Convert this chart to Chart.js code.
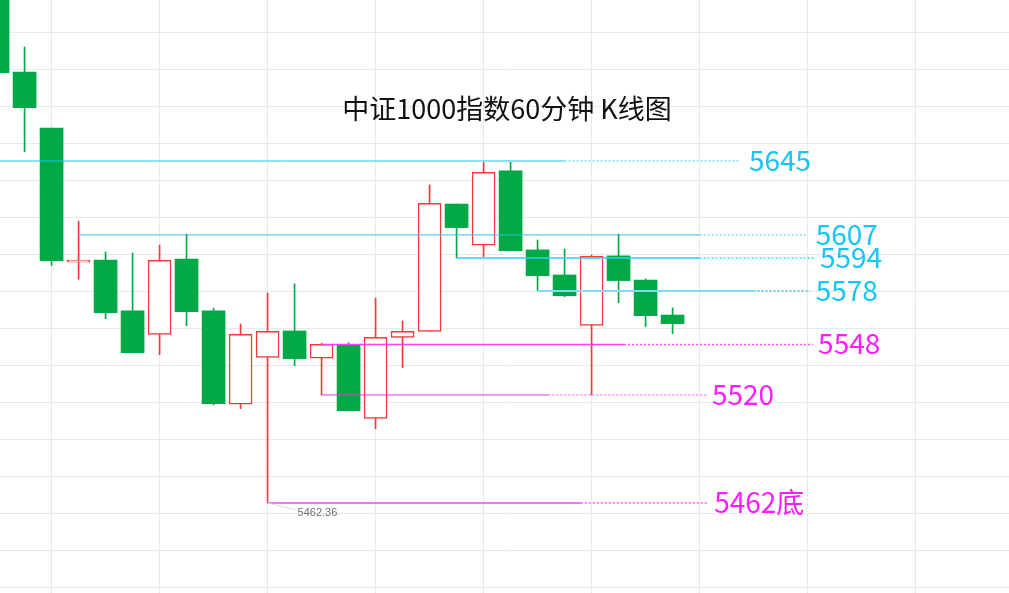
<!DOCTYPE html>
<html>
<head>
<meta charset="utf-8">
<script src="https://cdn.jsdelivr.net/npm/chart.js@4/dist/chart.umd.min.js"></script>
<style>
  html, body { margin: 0; padding: 0; background: #fff; overflow: hidden; }
  canvas { display: block; }
</style>
</head>
<body>
<canvas id="kline" width="1009" height="593"></canvas>
<script>
// 中证1000 60分钟K线 (按时间顺序)
const opens  = [5748.0, 5692.5, 5662.6, 5590.9, 5592.1, 5564.9, 5552.4, 5592.6, 5564.9, 5515.1, 5540.1, 5554.2, 5539.6,
                5546.7, 5507.5, 5550.8, 5554.0, 5622.0, 5600.0, 5639.7, 5597.5, 5584.1, 5557.2, 5594.3, 5581.4, 5562.7];
const highs  = [5748.0, 5705.9, 5662.6, 5612.9, 5596.4, 5595.9, 5600.1, 5606.0, 5566.3, 5557.9, 5574.5, 5579.3, 5547.6,
                5547.9, 5571.8, 5559.5, 5632.2, 5622.0, 5644.3, 5644.3, 5602.8, 5598.0, 5594.8, 5606.0, 5582.0, 5566.5];
const lows   = [5692.2, 5650.0, 5589.1, 5581.8, 5560.8, 5542.6, 5541.5, 5557.0, 5514.7, 5512.7, 5462.36, 5535.6, 5520.0,
                5511.6, 5502.0, 5534.6, 5554.0, 5593.2, 5593.9, 5597.1, 5575.6, 5572.5, 5520.0, 5569.3, 5556.5, 5552.7];
const closes = [5692.2, 5673.5, 5591.7, 5592.1, 5564.0, 5542.6, 5591.9, 5564.5, 5515.3, 5552.4, 5554.0, 5539.4, 5547.1,
                5511.6, 5550.8, 5554.0, 5622.4, 5609.4, 5639.0, 5597.1, 5583.7, 5573.0, 5594.1, 5581.1, 5562.4, 5558.1];

// 支撑/压力位
const levelLabels  = ["5645", "5607", "5594", "5578", "5548", "5520", "5462底"];
const levelValues  = [5645.0, 5605.5, 5593.2, 5575.6, 5547.0, 5520.0, 5462.3];
const levelFrom    = [0, 3, 17, 20, 12, 12, 10];
const levelSolidTo = [21.0, 26.0, 26.0, 28.0, 23.2, 20.4, 21.6];
const levelDotTo   = [27.5, 30.0, 30.3, 30.1, 30.2, 26.3, 26.3];
const levelTextAt  = [27.83, 30.3, 30.46, 30.3, 30.39, 26.46, 26.54];

const lowMark = 5462.36;
const lowMarkIndex = 10;
const title = "中证1000指数60分钟 K线图";

// 坐标范围 / 网格
const xMin = 0.09, xMax = 37.46;
const yMin = 5414.2, yMax = 5731.0;
const xGrid = [2, 6, 10, 14, 18, 22, 26, 30, 34];
const yGridFirst = 5713.9, yGridStep = 19.77;

const GREEN = "#00a846";
const RED = "#f03a3a";
const CYAN_TEXT = "#14c6f6";
const MAGENTA_TEXT = "#ff1cff";

const lineStyles = [
  { color: "#1cc6ee", dot: "#30cdf2", width: 1 },
  { color: "#2ec0e3", dot: "#45d0f2", width: 1 },
  { color: "#2fd0f7", dot: "#45d4f6", width: 1.5 },
  { color: "#80dcf6", dot: "#60d6f6", width: 2 },
  { color: "#ff3cff", dot: "#ff50ff", width: 1.5 },
  { color: "#e23ae2", dot: "#f050f0", width: 1 },
  { color: "#ff40ff", dot: "#ff55ff", width: 1.5 },
];

const idx = opens.map((_, i) => i);
const isUp = idx.map((i) => closes[i] > opens[i]);

const datasets = [];

// 水平线
levelValues.forEach((v, i) => {
  const st = lineStyles[i];
  datasets.push({
    type: "line",
    data: [{ x: levelFrom[i], y: v }, { x: levelSolidTo[i], y: v }],
    borderColor: st.color,
    borderWidth: st.width,
    pointRadius: 0,
    order: 0,
  });
  datasets.push({
    type: "line",
    data: [{ x: levelSolidTo[i], y: v }, { x: levelDotTo[i], y: v }],
    borderColor: st.dot,
    borderWidth: st.width,
    borderDash: [2, 2],
    pointRadius: 0,
    order: 0,
  });
});

// 实体
datasets.push({
  type: "bar",
  data: idx.map((i) => ({ x: i, y: [opens[i], closes[i]] })),
  backgroundColor: idx.map((i) => (isUp[i] ? "#ffffff" : GREEN)),
  borderColor: idx.map((i) => (isUp[i] ? RED : GREEN)),
  borderWidth: idx.map((i) => (isUp[i] ? 1.5 : 0)),
  borderSkipped: false,
  barThickness: 23,
  grouped: false,
  order: 1,
});

// 影线
datasets.push({
  type: "bar",
  data: idx.map((i) => ({ x: i, y: [lows[i], highs[i]] })),
  backgroundColor: idx.map((i) => (isUp[i] ? RED : GREEN)),
  borderWidth: 0,
  barThickness: 1,
  grouped: false,
  order: 2,
});

const textPlugin = {
  id: "texts",
  afterDatasetsDraw(chart) {
    const { ctx, scales: { x, y } } = chart;
    ctx.save();
    ctx.textBaseline = "middle";

    // 标题
    ctx.font = '27px "Noto Sans CJK SC"';
    ctx.fillStyle = "#111111";
    ctx.textAlign = "center";
    ctx.fillText(title, 507, 109);

    // 价位标签
    ctx.font = '28px "Noto Sans CJK SC"';
    ctx.textAlign = "left";
    levelLabels.forEach((t, i) => {
      ctx.fillStyle = i < 4 ? CYAN_TEXT : MAGENTA_TEXT;
      ctx.fillText(t, x.getPixelForValue(levelTextAt[i]), y.getPixelForValue(levelValues[i]) - 1);
    });

    // 最低点标记
    const px = x.getPixelForValue(lowMarkIndex);
    const py = y.getPixelForValue(lowMark);
    ctx.strokeStyle = "#d5dae3";
    ctx.lineWidth = 1;
    ctx.beginPath();
    ctx.moveTo(px, py);
    ctx.lineTo(px + 28, py + 7);
    ctx.stroke();
    ctx.font = '11px "Liberation Sans"';
    ctx.fillStyle = "#707070";
    ctx.fillText(lowMark.toFixed(2), px + 30, py + 10);
    ctx.restore();
  },
};

new Chart(document.getElementById("kline"), {
  type: "bar",
  data: { datasets },
  options: {
    responsive: false,
    devicePixelRatio: 1,
    animation: false,
    events: [],
    layout: { padding: 0 },
    plugins: {
      legend: { display: false },
      tooltip: { enabled: false },
      title: { display: false },
    },
    scales: {
      x: {
        type: "linear",
        min: xMin,
        max: xMax,
        offset: false,
        grid: { color: "#e6eaf0", lineWidth: 1, drawTicks: false, offset: false },
        border: { display: false },
        ticks: { display: false },
        afterBuildTicks: (scale) => {
          scale.ticks = xGrid.map((v) => ({ value: v }));
        },
      },
      y: {
        type: "linear",
        min: yMin,
        max: yMax,
        grid: { color: "#e6eaf0", lineWidth: 1, drawTicks: false },
        border: { display: false },
        ticks: { display: false },
        afterBuildTicks: (scale) => {
          const t = [];
          for (let v = yGridFirst; v > yMin; v -= yGridStep) t.push({ value: v });
          scale.ticks = t;
        },
      },
    },
  },
  plugins: [textPlugin],
});
</script>
</body>
</html>
